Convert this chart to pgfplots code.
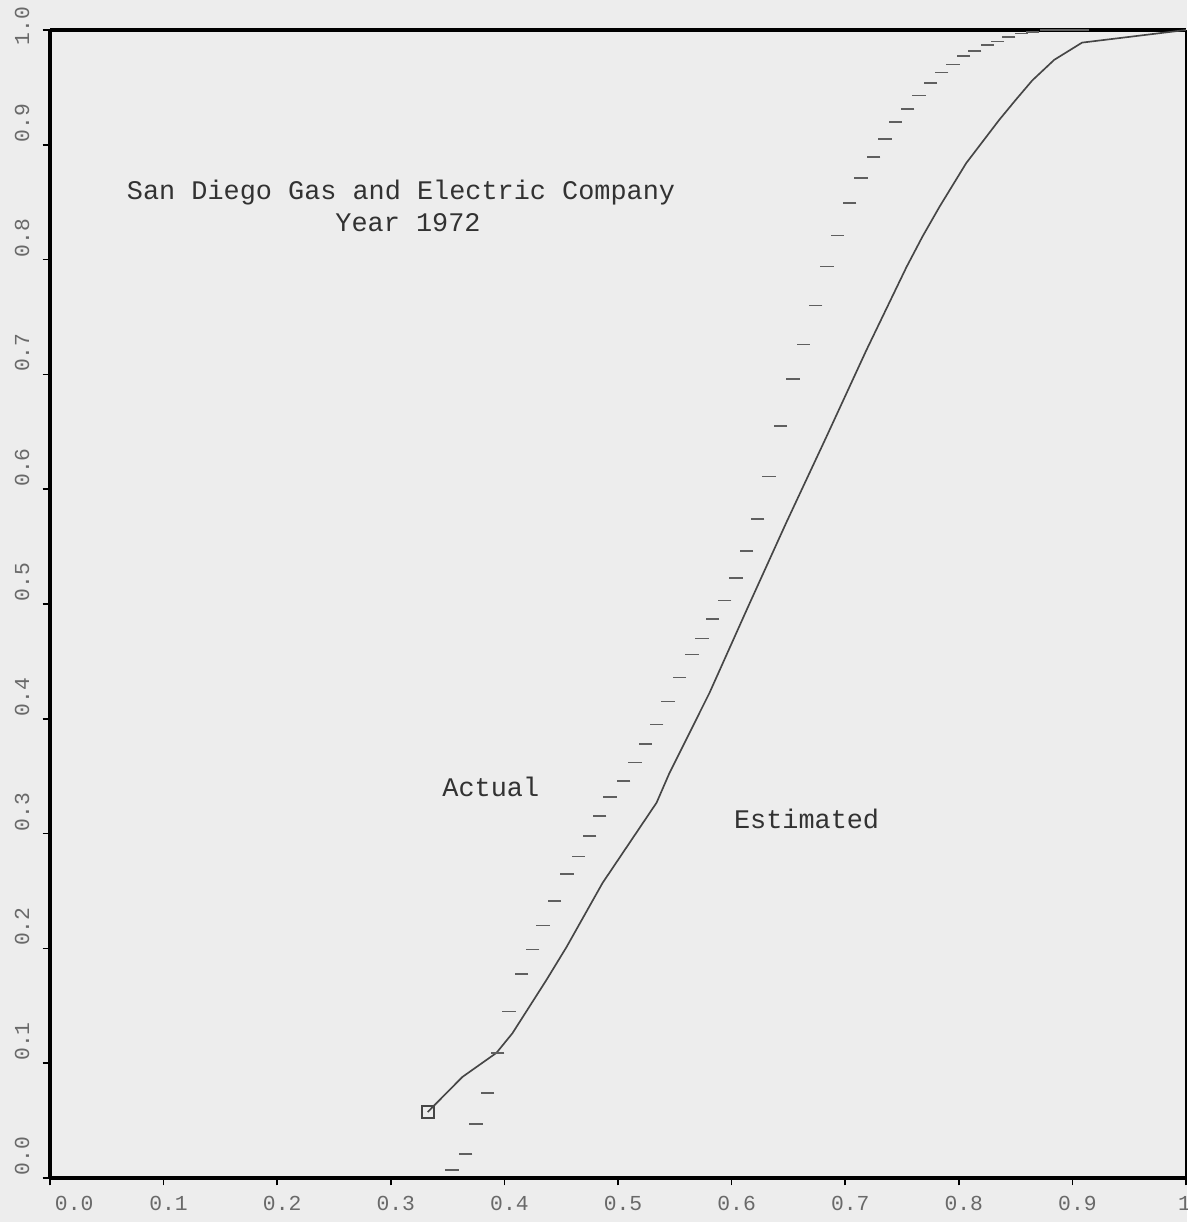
\documentclass[border=0pt]{standalone}
\usepackage{fontspec}
\setmainfont{Liberation Mono}
\usepackage{pgfplots}
\pgfplotsset{compat=1.18}
\usetikzlibrary{backgrounds}
\definecolor{bgc}{RGB}{237,237,237}
\definecolor{tickc}{RGB}{105,105,105}
\definecolor{txtc}{RGB}{50,50,50}
\definecolor{curvec}{RGB}{70,70,70}
\definecolor{dashc}{RGB}{95,95,95}
\begin{document}
\begin{tikzpicture}[show background rectangle, inner frame sep=0pt, background rectangle/.style={fill=bgc}]
\begin{axis}[
  scale only axis, width=340.8pt, height=344.4pt,
  xmin=0, xmax=1, ymin=0, ymax=1,
  axis lines=left,
  axis line style={-, line width=1.1pt, black},
  xtick={0,0.1,0.2,0.3,0.4,0.5,0.6,0.7,0.8,0.9,1},
  xticklabels={{\makebox[0pt][l]{0.0}},0.1,0.2,0.3,0.4,0.5,0.6,0.7,0.8,0.9,{\makebox[0pt][r]{1}}},
  ytick={0,0.1,0.2,0.3,0.4,0.5,0.6,0.7,0.8,0.9,1},
  yticklabels={0.0,0.1,0.2,0.3,0.4,0.5,0.6,0.7,0.8,0.9,{\makebox[0pt][r]{1.0\hspace*{-0.5pt}}}},
  tick align=outside, major tick length=2.2pt,
  tick style={black, line width=0.5pt},
  xticklabel style={font=\fontsize{6.4}{7}\selectfont, text=tickc, anchor=north, yshift=0.3pt, xshift=1.5pt},
  yticklabel style={font=\fontsize{6.4}{7}\selectfont, text=tickc, xshift=-0.5pt, yshift=6.5pt, rotate=90, anchor=south},
  clip=false,
]
\coordinate (bl) at (rel axis cs:0,0);
\coordinate (tr) at (rel axis cs:1,1);
\draw[line width=1.1pt, black] (rel axis cs:0,1) -- (rel axis cs:1,1);
\draw[line width=0.6pt, black] (rel axis cs:1,0) -- (rel axis cs:1,1);
% Estimated (solid curve)
\addplot[draw=curvec, line width=0.5pt, mark=none] coordinates {
(0.3325,0.0575) (0.363,0.088) (0.393,0.109) (0.407,0.126) (0.437,0.1725)
(0.4547,0.2012) (0.4864,0.257) (0.534,0.327) (0.5453,0.3528) (0.5805,0.4225)
(0.614,0.4965) (0.648,0.5706) (0.6834,0.6455) (0.7186,0.721) (0.754,0.7936)
(0.768,0.820) (0.783,0.846) (0.8065,0.884) (0.8355,0.9216) (0.850,0.939)
(0.8646,0.956) (0.884,0.974) (0.9085,0.989) (1.0,1.0)
};
\addplot[only marks, mark=square, mark size=1.8pt, mark options={draw=curvec, line width=0.5pt}] coordinates {(0.3325,0.0575)};
% Actual (dashes)
\addplot[only marks, mark=-, mark size=2pt, mark options={line width=0.55pt, draw=dashc}] coordinates {
(0.354,0.007) (0.366,0.021) (0.375,0.047) (0.385,0.074) (0.394,0.109)
(0.404,0.145) (0.415,0.178) (0.425,0.199) (0.434,0.220) (0.444,0.241)
(0.455,0.265) (0.465,0.280) (0.475,0.298) (0.484,0.315) (0.493,0.332)
(0.505,0.346) (0.515,0.362) (0.524,0.378) (0.534,0.395) (0.544,0.415)
(0.554,0.436) (0.565,0.456) (0.574,0.470) (0.583,0.487) (0.594,0.503)
(0.604,0.523) (0.613,0.546) (0.623,0.574) (0.633,0.611) (0.643,0.655)
(0.654,0.696) (0.663,0.726) (0.674,0.760) (0.684,0.794) (0.693,0.821)
(0.704,0.849) (0.714,0.871) (0.725,0.889) (0.735,0.905) (0.744,0.920)
(0.755,0.931) (0.765,0.943) (0.775,0.954) (0.785,0.963) (0.795,0.970)
(0.804,0.977) (0.814,0.982) (0.825,0.987) (0.834,0.990) (0.844,0.994)
(0.855,0.997) (0.865,0.998) (0.877,1.0) (0.888,1.0) (0.899,1.0) (0.909,1.0)
};
\node[font=\fontsize{8.06}{9.6}\selectfont, text=txtc, align=center] at (axis cs:0.309,0.847)
  {San Diego Gas and Electric Company\\\hspace*{4.2pt}Year 1972};
\node[font=\fontsize{8.06}{9.6}\selectfont, text=txtc] at (axis cs:0.388,0.341) {Actual};
\node[font=\fontsize{8.06}{9.6}\selectfont, text=txtc] at (axis cs:0.666,0.313) {Estimated};
\end{axis}
\pgfresetboundingbox
\path ([xshift=-15pt,yshift=-13.2pt]bl) rectangle ([xshift=0.3pt,yshift=9pt]tr);
\end{tikzpicture}
\end{document}
